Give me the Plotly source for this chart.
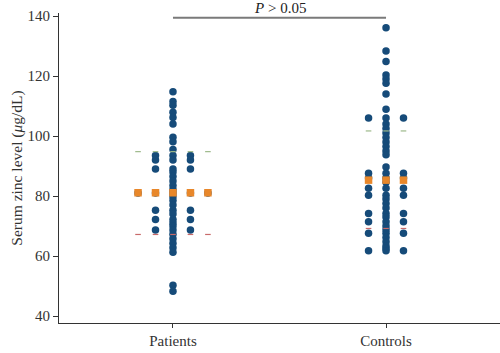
import plotly.graph_objects as go
from collections import defaultdict

groups = ["Patients", "Controls"]

patients = [114.8, 111.5, 110.3, 107.9, 106.2, 104.0, 99.6, 98.1, 95.5,
            93.5, 93.5, 93.5, 92.0, 92.0, 92.0, 89.0, 89.0, 89.0,
            88.0, 86.5, 85.0, 83.5, 82.2, 81.0, 81.0, 81.0, 81.0, 81.0,
            79.8, 78.5, 77.0, 75.3, 75.3, 75.3, 74.0, 72.2, 72.2, 72.2,
            71.0, 70.0, 68.7, 68.7, 68.7, 67.3, 65.8, 64.3, 62.8, 61.3,
            50.3, 48.3]

controls = [136.1, 128.3, 124.8, 120.3, 119.0, 117.6, 114.0, 108.9,
            106.0, 106.0, 106.0, 104.0, 102.5, 101.0, 99.5, 98.0, 96.5,
            95.0, 93.8, 89.7, 87.6, 87.6, 87.6, 86.0, 86.0, 86.0, 84.6,
            82.6, 82.6, 82.6, 80.3, 80.3, 80.3, 79.0, 77.5, 76.0,
            74.2, 74.2, 74.2, 73.0, 71.4, 71.4, 71.4, 70.0, 68.8,
            67.6, 67.6, 67.6, 66.2, 64.8, 63.4, 62.5, 61.8, 61.8, 61.8]

means = [81.1, 85.3]
sd_upper = [94.8, 101.7]
sd_lower = [67.2, 69.2]
p_label = "<i>P</i> > 0.05"

STEP = 0.082
ORDER = [0, -1, 1, -2, 2, -3, 3]
SPREAD = [2, 1]  # half-width (in columns) of summary markers per group

BLUE = "#164b79"
ORANGE = "#e8872a"
GREEN = "#9db98a"
RED = "#c86a6a"
FONT = "Liberation Serif"

fig = go.Figure()

for gi, vals in enumerate([patients, controls]):
    seen = defaultdict(int)
    xs, ys = [], []
    for v in vals:
        k = seen[v]
        seen[v] += 1
        xs.append(gi + ORDER[k] * STEP)
        ys.append(v)
    fig.add_trace(go.Scatter(x=xs, y=ys, mode="markers",
                             marker=dict(color=BLUE, size=7.5, line=dict(width=0)),
                             showlegend=False, hoverinfo="y"))

for gi in range(len(groups)):
    cols = [gi + c * STEP for c in range(-SPREAD[gi], SPREAD[gi] + 1)]
    fig.add_trace(go.Scatter(x=cols, y=[sd_upper[gi]] * len(cols), mode="markers",
                             marker=dict(symbol="line-ew", size=4, line=dict(color=GREEN, width=1.2)),
                             showlegend=False))
    fig.add_trace(go.Scatter(x=cols, y=[sd_lower[gi]] * len(cols), mode="markers",
                             marker=dict(symbol="line-ew", size=4, line=dict(color=RED, width=1.2)),
                             showlegend=False))
    fig.add_trace(go.Scatter(x=cols, y=[means[gi]] * len(cols), mode="markers",
                             marker=dict(symbol="square", size=7.5, color=ORANGE, line=dict(width=0)),
                             showlegend=False))

fig.add_shape(type="line", x0=0, x1=1, y0=139.4, y1=139.4, xref="x", yref="y",
              line=dict(color="#7a7a7a", width=2))
fig.add_annotation(x=0.5, y=1.016, xref="x", yref="paper", yanchor="middle",
                   text=p_label, showarrow=False,
                   font=dict(family=FONT, size=15, color="#222"))

fig.update_layout(
    width=500, height=353,
    margin=dict(l=59, r=0, t=13, b=30),
    paper_bgcolor="white", plot_bgcolor="white",
    font=dict(family=FONT, size=15, color="#333"),
    xaxis=dict(range=[-0.535, 1.535], tickmode="array", tickvals=[0, 1], ticktext=groups,
               showgrid=False, zeroline=False, showline=True, linecolor="#333", linewidth=1,
               ticks="outside", ticklen=4, tickcolor="#333", tickfont=dict(size=15, color="#333")),
    yaxis=dict(range=[37.7, 141], tickvals=[40, 60, 80, 100, 120, 140],
               showgrid=False, zeroline=False, showline=True, linecolor="#333", linewidth=1,
               ticks="outside", ticklen=5, tickcolor="#333", tickfont=dict(size=15, color="#333"),
               title=dict(text="Serum zinc level (<i>μ</i>g/dL)", standoff=1,
                          font=dict(size=15.5, color="#333"))),
)

fig.write_html("out.html")
